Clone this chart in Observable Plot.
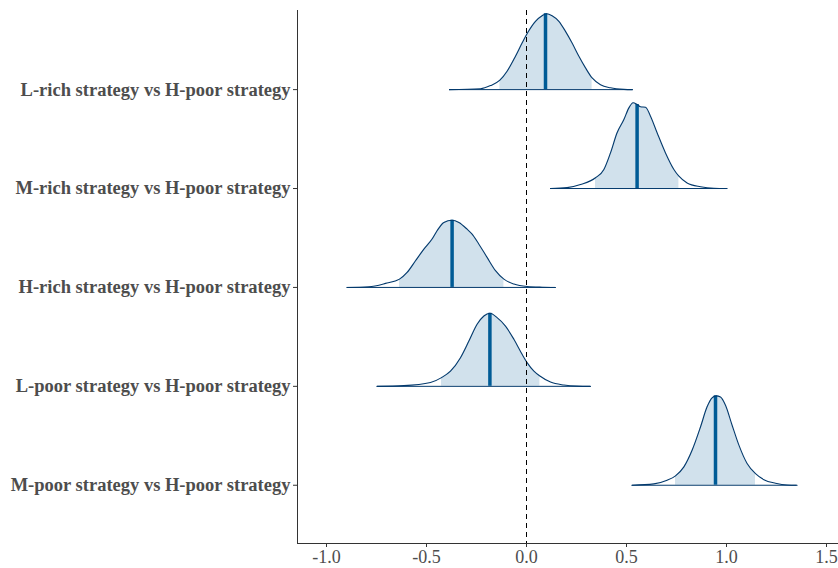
<!DOCTYPE html>
<html>
<head>
<meta charset="utf-8">
<script src="https://cdn.jsdelivr.net/npm/d3@7"></script>
<script src="https://cdn.jsdelivr.net/npm/@observablehq/plot@0.6"></script>
<style>
  html, body { margin: 0; padding: 0; background: #fff; }
  #chart svg, #chart svg text { font-family: "Liberation Serif", "Times New Roman", serif !important; }
</style>
</head>
<body>
<div id="chart"></div>
<script>
// Comparison labels, top to bottom in the chart
const labels = [
  "L-rich strategy vs H-poor strategy",
  "M-rich strategy vs H-poor strategy",
  "H-rich strategy vs H-poor strategy",
  "L-poor strategy vs H-poor strategy",
  "M-poor strategy vs H-poor strategy"
];

// Posterior density curves (x value, density)
const xs_Lrich = [-0.385,-0.23,-0.18,-0.133,-0.097,-0.055,-0.022,0.007,0.045,0.078,0.10,0.128,0.162,0.195,0.228,0.262,0.295,0.328,0.37,0.42,0.487,0.53];
const d_Lrich  = [0,0.04,0.18,0.42,0.82,1.49,2.08,2.56,3.05,3.30,3.39,3.30,3.05,2.60,2.08,1.49,0.97,0.52,0.22,0.08,0.01,0];

const xs_Mrich = [0.12,0.203,0.27,0.345,0.387,0.42,0.453,0.487,0.512,0.533,0.553,0.57,0.595,0.62,0.653,0.695,0.737,0.762,0.803,0.87,0.937,1.003];
const d_Mrich  = [0,0.04,0.18,0.48,0.85,1.59,2.49,3.08,3.60,3.83,3.75,3.65,3.63,3.23,2.49,1.59,0.85,0.55,0.25,0.08,0.01,0];

const xs_Hrich = [-0.897,-0.788,-0.705,-0.635,-0.597,-0.555,-0.513,-0.472,-0.447,-0.413,-0.372,-0.338,-0.297,-0.272,-0.238,-0.197,-0.155,-0.113,-0.063,0.003,0.078,0.145];
const d_Hrich  = [0,0.03,0.18,0.37,0.67,1.19,1.71,2.16,2.53,2.90,3.00,2.90,2.60,2.38,1.93,1.34,0.75,0.37,0.15,0.04,0.01,0];

const xs_Lpoor = [-0.747,-0.613,-0.48,-0.425,-0.38,-0.33,-0.288,-0.247,-0.213,-0.183,-0.147,-0.105,-0.063,-0.022,0.003,0.037,0.067,0.12,0.187,0.253,0.32];
const d_Lpoor  = [0,0.03,0.17,0.39,0.68,1.28,2.02,2.77,3.14,3.26,3.07,2.69,2.10,1.43,1.06,0.68,0.46,0.19,0.06,0.01,0];

const xs_Mpoor = [0.528,0.637,0.703,0.745,0.787,0.828,0.87,0.903,0.928,0.948,0.97,0.995,1.028,1.062,1.103,1.145,1.187,1.245,1.303,1.353];
const d_Mpoor  = [0,0.06,0.22,0.42,0.82,1.56,2.60,3.50,3.90,3.99,3.94,3.57,2.68,1.79,0.97,0.52,0.25,0.09,0.01,0];

// Shaded interval bounds, medians and density at the median
const bandLo = [-0.133, 0.345, -0.635, -0.425, 0.745];
const bandHi = [0.328, 0.762, -0.113, 0.067, 1.145];
const medians = [0.095, 0.553, -0.372, -0.183, 0.945];
const medianDensity = [3.39, 3.75, 3.00, 3.26, 3.99];

const xTicks = [-1.0, -0.5, 0.0, 0.5, 1.0, 1.5];

// ---- build tables ----
const curves = [
  [xs_Lrich, d_Lrich], [xs_Mrich, d_Mrich], [xs_Hrich, d_Hrich],
  [xs_Lpoor, d_Lpoor], [xs_Mpoor, d_Mpoor]
];
const n = labels.length;
const k = 0.2265; // row units per density unit (ridge height scaling)
const rowOf = i => n - 1 - i; // top label gets highest row

const pts = [];
curves.forEach(([xs, ds], i) => {
  xs.forEach((x, j) => pts.push({series: i, row: rowOf(i), x, d: ds[j]}));
});
const bandPts = pts.filter(p => p.x >= bandLo[p.series] - 1e-9 && p.x <= bandHi[p.series] + 1e-9);
const baseRows = curves.map(([xs], i) => ({row: rowOf(i), x1: xs[0], x2: xs[xs.length - 1]}));
const medRows = medians.map((m, i) => ({row: rowOf(i), x: m, d: medianDensity[i]}));

const xDomain = [-1.145, 1.56];
const yDomain = [-0.589, 4.8];
const dark = "#03396c";

const chart = Plot.plot({
  width: 838,
  height: 568,
  marginLeft: 297,
  marginRight: 0,
  marginTop: 10,
  marginBottom: 25,
  style: {fontFamily: "'Liberation Serif', 'Times New Roman', serif", background: "#fff"},
  x: {domain: xDomain},
  y: {domain: yDomain},
  marks: [
    Plot.areaY(bandPts, {x: "x", y1: "row", y2: p => p.row + p.d * k, z: "series", fill: "#d1e1ec", curve: "monotone-x"}),
    Plot.ruleY(baseRows, {y: "row", x1: "x1", x2: "x2", stroke: dark, strokeWidth: 1}),
    Plot.ruleX(medRows, {x: "x", y1: "row", y2: p => p.row + p.d * k, stroke: "#005b96", strokeWidth: 3.5}),
    Plot.line(pts, {x: "x", y: p => p.row + p.d * k, z: "series", stroke: dark, strokeWidth: 1.1, curve: "monotone-x"}),
    Plot.ruleX([0], {stroke: "#000", strokeDasharray: "5,4", strokeWidth: 1}),
    Plot.ruleX([xDomain[0]], {stroke: "#333", strokeWidth: 1}),
    Plot.ruleY([yDomain[0]], {stroke: "#333", strokeWidth: 1}),
    Plot.axisX({ticks: xTicks, tickFormat: d => d.toFixed(1), tickSize: 4, tickPadding: 3, fontSize: 18, color: "#4d4d4d", stroke: "#333", label: null}),
    Plot.axisY({ticks: d3.range(n), tickFormat: r => labels[n - 1 - r], tickSize: 4, tickPadding: 3, fontSize: 18.5, fontWeight: "bold", color: "#4d4d4d", stroke: "#333", label: null})
  ]
});
document.getElementById("chart").appendChild(chart);
</script>
</body>
</html>
